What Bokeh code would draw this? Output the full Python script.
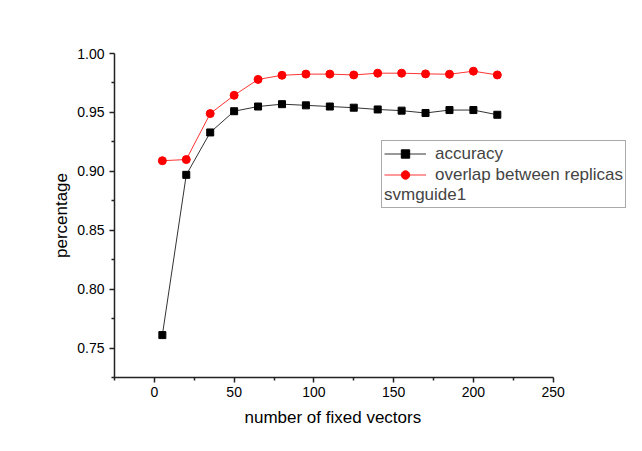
from bokeh.plotting import figure
from bokeh.models import Range1d, FixedTicker, PrintfTickFormatter, Legend, LegendItem, Title
from bokeh.embed import file_html
from bokeh.resources import INLINE

# data
fixed_vectors = [5, 20, 35, 50, 65, 80, 95, 110, 125, 140, 155, 170, 185, 200, 215]
accuracy = [0.761, 0.897, 0.933, 0.951, 0.955, 0.957, 0.956, 0.955, 0.954, 0.9525,
            0.9515, 0.9495, 0.952, 0.952, 0.948]
overlap = [0.909, 0.910, 0.949, 0.9645, 0.978, 0.9815, 0.9825, 0.9825, 0.9818, 0.9833,
           0.9833, 0.9827, 0.9824, 0.985, 0.9818]
x_ticks = [0, 50, 100, 150, 200, 250]
x_minor = [-25, 25, 75, 125, 175, 225]
y_ticks = [0.75, 0.80, 0.85, 0.90, 0.95, 1.00]
y_minor = [0.725, 0.775, 0.825, 0.875, 0.925, 0.975]

FONT = "Liberation Sans"

p = figure(width=634, height=443, output_backend="svg", toolbar_location=None,
           x_range=Range1d(-25, 301), y_range=Range1d(0.725, 1.0),
           min_border_left=114, min_border_right=0, min_border_top=53, min_border_bottom=66)
p.outline_line_color = None
p.xgrid.visible = False
p.ygrid.visible = False

for ax in (p.xaxis[0], p.yaxis[0]):
    ax.axis_line_width = 1.5
    ax.axis_line_color = "#222222"
    ax.major_tick_line_color = "#222222"
    ax.minor_tick_line_color = "#222222"
    ax.major_tick_line_width = 1.5
    ax.minor_tick_line_width = 1.5
    ax.major_tick_out = 5
    ax.major_tick_in = 0
    ax.minor_tick_out = 3
    ax.minor_tick_in = 0
    ax.major_label_text_font = FONT
    ax.major_label_text_font_size = "14px"
    ax.major_label_text_color = "black"
    ax.axis_label_text_font = FONT
    ax.axis_label_text_font_size = "17px"
    ax.axis_label_text_font_style = "normal"
    ax.axis_label_text_color = "black"

p.xaxis.bounds = (-25, 250)
p.xaxis.ticker = FixedTicker(ticks=x_ticks, minor_ticks=x_minor)
p.yaxis.ticker = FixedTicker(ticks=y_ticks, minor_ticks=y_minor)
p.yaxis.formatter = PrintfTickFormatter(format="%.2f")
p.yaxis.axis_label = "percentage"
p.xaxis.major_label_standoff = 4
p.yaxis.major_label_standoff = 5
p.yaxis.axis_label_standoff = 3

# x-axis title placed under the bounded axis (frame extends right for the legend)
xtitle = Title(text="number of fixed vectors", align="left", offset=130, standoff=12,
               text_font=FONT, text_font_size="17px", text_font_style="normal",
               text_color="black")
p.add_layout(xtitle, "below")

l1 = p.line(fixed_vectors, accuracy, line_color="#333333", line_width=1)
s1 = p.scatter(fixed_vectors, accuracy, marker="square", size=7, fill_color="black", line_color="black")
l2 = p.line(fixed_vectors, overlap, line_color="#ff3333", line_width=1)
s2 = p.scatter(fixed_vectors, overlap, marker="circle", size=8, fill_color="red", line_color="red")

legend = Legend(items=[LegendItem(label="accuracy", renderers=[l1, s1]),
                       LegendItem(label="overlap between replicas", renderers=[l2, s2])],
                location=(267, 169), title="svmguide1", title_location="below",
                title_text_font=FONT, title_text_font_size="17px", title_text_font_style="normal",
                title_standoff=0,
                label_text_font=FONT, label_text_font_size="17px",
                glyph_width=42, glyph_height=21, label_height=21, label_standoff=9,
                spacing=0, padding=2, margin=0,
                border_line_color="#555555", border_line_width=1,
                background_fill_color="white", background_fill_alpha=1)
p.add_layout(legend, "center")

open("out.html", "w").write(file_html(p, INLINE))
